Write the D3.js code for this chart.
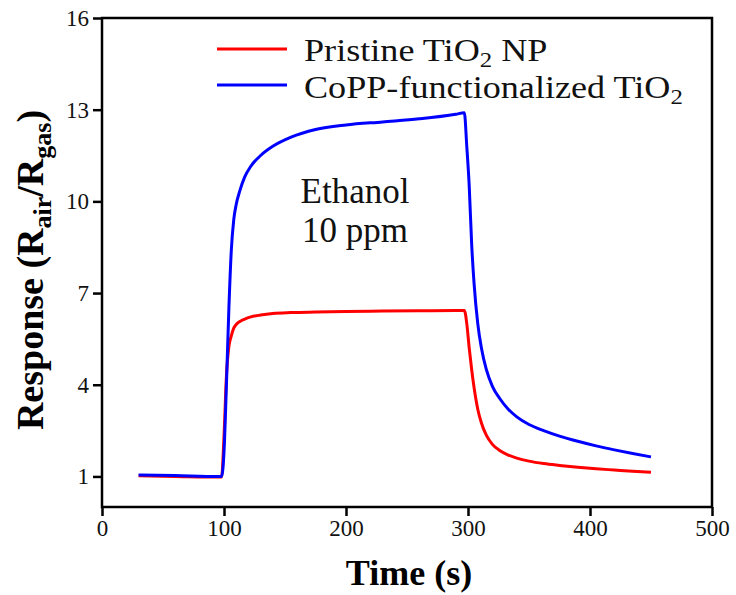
<!DOCTYPE html>
<html>
<head>
<meta charset="utf-8">
<script src="https://cdn.jsdelivr.net/npm/d3@7"></script>
<style>
  body { margin: 0; background: #fff; }
  text { font-family: "Liberation Serif", "Times New Roman", serif; }
</style>
</head>
<body>
<svg width="736" height="595"></svg>
<script>
// time (s) and response values
const time = [30, 60, 95, 98, 100, 102, 104, 106, 108, 110, 113, 117, 122, 130, 140, 155, 175, 200, 230, 260, 290, 297,
  299, 301, 303, 305, 308, 311, 315, 320, 326, 333, 340, 350, 362, 375, 390, 405, 420, 435, 450];
const pristine = [1.02, 1.0, 0.98, 0.98, 2.3, 4.3, 5.25, 5.6, 5.85, 5.97, 6.07, 6.15, 6.22, 6.28, 6.33, 6.36, 6.38, 6.4, 6.41, 6.42, 6.43, 6.43,
  6.0, 5.2, 4.5, 3.9, 3.2, 2.75, 2.35, 2.05, 1.85, 1.7, 1.6, 1.5, 1.42, 1.36, 1.3, 1.25, 1.21, 1.17, 1.14];
const copp = [1.05, 1.03, 1.0, 1.0, 1.8, 4.0, 6.5, 8.4, 9.4, 9.9, 10.35, 10.8, 11.15, 11.5, 11.8, 12.1, 12.35, 12.5, 12.6, 12.7, 12.85, 12.9,
  11.8, 10.5, 8.6, 7.3, 6.0, 5.2, 4.5, 3.95, 3.55, 3.2, 2.95, 2.7, 2.5, 2.32, 2.15, 2.0, 1.87, 1.75, 1.64];
const xTicks = [0, 100, 200, 300, 400, 500];
const yTicks = [1, 4, 7, 10, 13, 16];

const svg = d3.select('svg');
const plotL = 102, plotR = 712, plotT = 18, plotB = 507;

const x = d3.scaleLinear().domain([0, 500]).range([plotL, plotR]);
const y = d3.scaleLinear().domain([0, 16]).range([plotB, plotT]);

// axes
svg.append('g')
  .attr('transform', `translate(0, ${plotB})`)
  .call(d3.axisBottom(x).tickValues(xTicks).tickSize(9).tickPadding(4))
  .call(g => g.select('.domain').remove())
  .call(g => g.selectAll('line').attr('stroke-width', 2.5))
  .call(g => g.selectAll('text').attr('font-size', 23).attr('fill', '#111'));

svg.append('g')
  .attr('transform', `translate(${plotL}, 0)`)
  .call(d3.axisLeft(y).tickValues(yTicks).tickSize(9).tickPadding(4))
  .call(g => g.select('.domain').remove())
  .call(g => g.selectAll('line').attr('stroke-width', 2.5))
  .call(g => g.selectAll('text').attr('font-size', 23).attr('fill', '#111'));

// frame
svg.append('rect')
  .attr('x', plotL).attr('y', plotT)
  .attr('width', plotR - plotL).attr('height', plotB - plotT)
  .attr('fill', 'none').attr('stroke', '#000').attr('stroke-width', 2.5);

// lines
const line = vals => d3.line()
  .x((d, i) => x(time[i]))
  .y(d => y(d))
  .curve(d3.curveMonotoneX)(vals);

svg.append('path').attr('d', line(pristine))
  .attr('fill', 'none').attr('stroke', '#ff0000').attr('stroke-width', 3);
svg.append('path').attr('d', line(copp))
  .attr('fill', 'none').attr('stroke', '#0000ff').attr('stroke-width', 3);

// legend (text slightly widened like the original figure)
const legend = [
  { color: '#ff0000', text: 'Pristine TiO', sub: '2', after: ' NP', ly: 49, ty: 61 },
  { color: '#0000ff', text: 'CoPP-functionalized TiO', sub: '2', after: '', ly: 85, ty: 98 }
];
legend.forEach(d => {
  svg.append('line')
    .attr('x1', 217).attr('x2', 287).attr('y1', d.ly).attr('y2', d.ly)
    .attr('stroke', d.color).attr('stroke-width', 3);
  const t = svg.append('text')
    .attr('transform', `translate(304, ${d.ty}) scale(1.13, 1)`)
    .attr('font-size', 32).attr('fill', '#111');
  t.append('tspan').text(d.text);
  t.append('tspan').text(d.sub).attr('font-size', 22).attr('dy', 6);
  if (d.after) t.append('tspan').text(d.after).attr('dy', -6);
});

// annotation
svg.append('text').attr('x', 355).attr('y', 203)
  .attr('text-anchor', 'middle').attr('font-size', 35).attr('fill', '#111')
  .text('Ethanol');
svg.append('text').attr('x', 355).attr('y', 242)
  .attr('text-anchor', 'middle').attr('font-size', 35).attr('fill', '#111')
  .text('10 ppm');

// axis titles
svg.append('text').attr('x', 409).attr('y', 585)
  .attr('text-anchor', 'middle').attr('font-size', 36).attr('font-weight', 'bold')
  .text('Time (s)');

const yl = svg.append('text')
  .attr('transform', 'translate(43, 270) rotate(-90)')
  .attr('text-anchor', 'middle').attr('font-size', 38).attr('font-weight', 'bold');
yl.append('tspan').text('Response (R');
yl.append('tspan').text('air').attr('font-size', 26).attr('dy', 8);
yl.append('tspan').text('/R').attr('dy', -8);
yl.append('tspan').text('gas').attr('font-size', 26).attr('dy', 8);
yl.append('tspan').text(')').attr('dy', -8);
</script>
</body>
</html>
